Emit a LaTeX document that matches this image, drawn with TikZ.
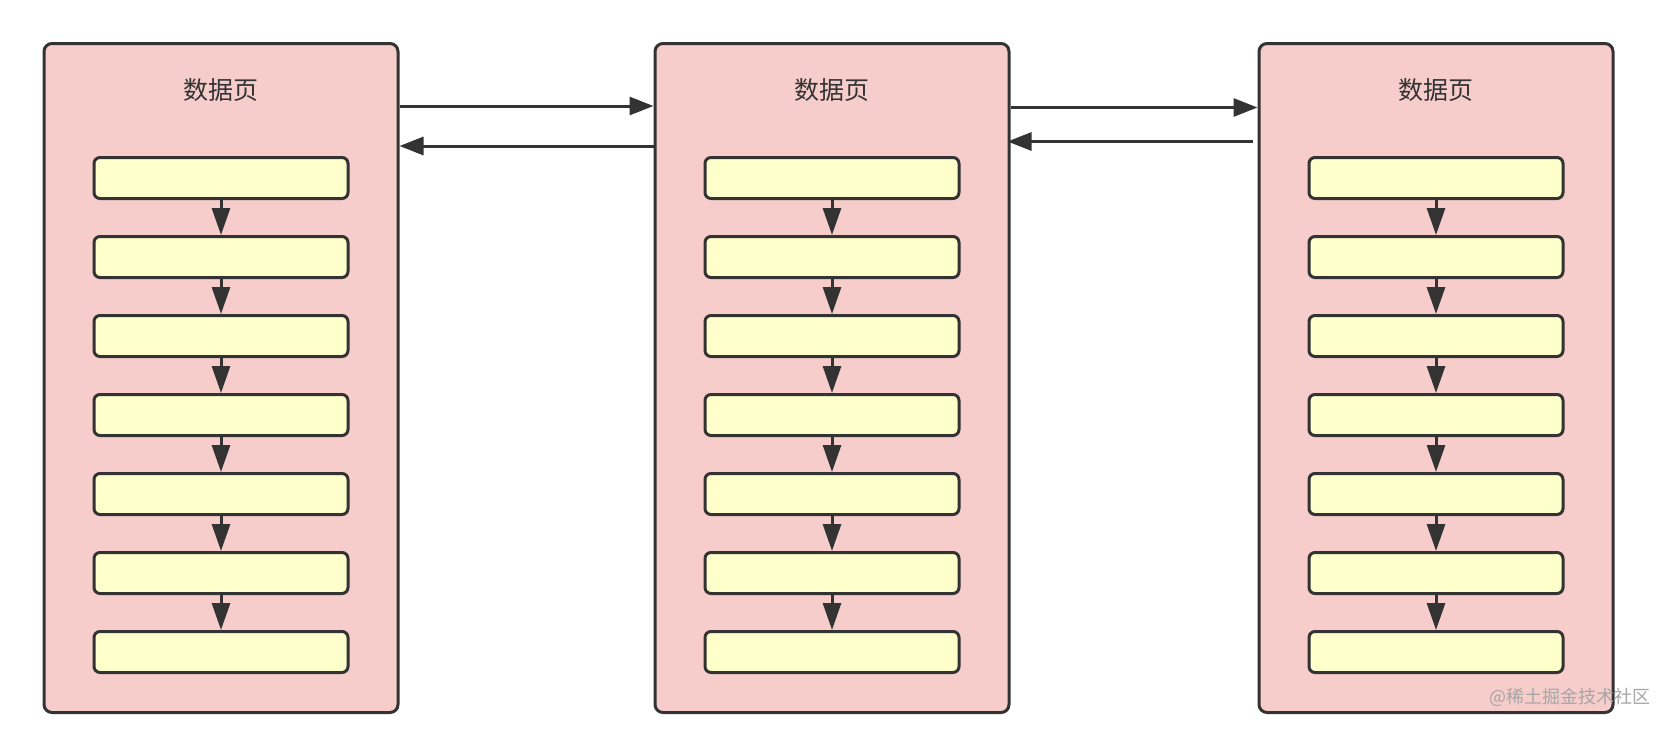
\documentclass[tikz,border=0pt]{standalone}
\usepackage{fontspec}
\newfontfamily\cjk{Noto Sans CJK SC}
\usetikzlibrary{calc, positioning}
\usetikzlibrary{arrows.meta}
\tikzset{>={Triangle[width=9pt,length=12pt]}}
\definecolor{pageColor}{HTML}{F6CDCB}
\definecolor{recordColor}{HTML}{FFFFCC}
\definecolor{lineColor}{HTML}{333333}
\definecolor{markColor}{HTML}{A6A6A6}

\begin{document}
\begin{tikzpicture}[
    x = 0.5pt, y = -0.5pt,
    node distance = 17.5pt,
    line width = 1.5pt,
    page/.style = {draw=lineColor, fill=pageColor, rounded corners=4pt,
        minimum width=177pt, minimum height=334.5pt, inner sep=0pt},
    record/.style = {draw=lineColor, fill=recordColor, rounded corners=3pt,
        minimum width=127pt, minimum height=20.5pt, inner sep=0pt},
    title/.style = {font=\cjk\fontsize{12.5}{15}\selectfont, text=lineColor},
    link/.style = {draw=lineColor, ->},
    next/.style = {draw=lineColor, -{Triangle[width=9pt,length=13.5pt]}}
  ]
  \useasboundingbox (0,0) rectangle (1670,728);
  \foreach \x [count=\p] in {221, 832, 1436} {
    \node[page] (page\p) at (\x,378) {};
    \node[title] (title\p) at (\x,90) {数据页};
    \node[record] (rec\p-1) at (\x,178) {};
    \foreach \r [count=\q from 1] in {2,...,7} {
      \node[record, below=of rec\p-\q] (rec\p-\r) {};
      \draw[next] (rec\p-\q) -- (rec\p-\r);
    }
  }

  \draw[link] ($(page1.north east)+(0,64)$) -- ($(page2.north west)+(0,64)$);
  \draw[link] ($(page2.north west)+(0,104)$) -- ($(page1.north east)+(0,104)$);
  \draw[link] ($(page2.north east)+(0,65.5)$) -- ($(page3.north west)+(0,65.5)$);
  \draw[link] ($(page3.north west)+(-5,99.5)$) -- ($(page2.north east)+(-3,99.5)$);

  \node[font=\cjk\fontsize{9}{11}\selectfont, text=markColor, anchor=west]
    (mark) at (1481,697) {@稀土掘金技术社区};
\end{tikzpicture}
\end{document}
